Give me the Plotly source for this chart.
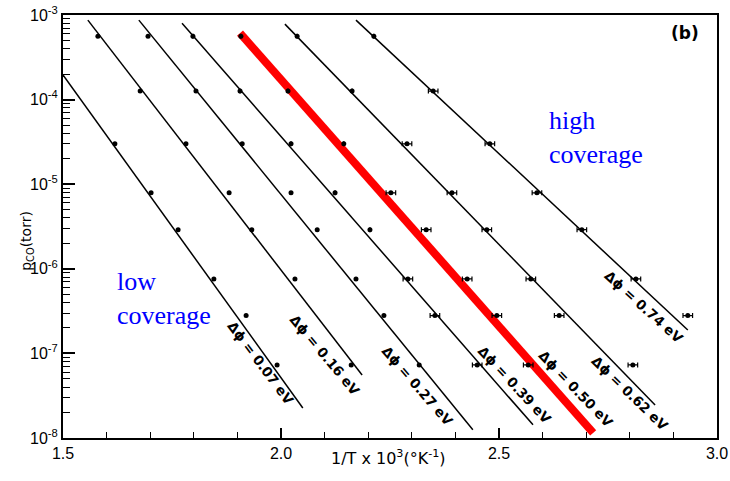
import plotly.graph_objects as go

# ---------------- data ----------------
dphi = ["0.07", "0.16", "0.27", "0.39", "0.50", "0.62", "0.74"]

# measured points (1/T x 10^3, p_CO in torr)
x_007 = [1.619, 1.702, 1.764, 1.846, 1.920, 1.991]
p_007 = [3.0e-5, 7.9e-6, 2.9e-6, 7.6e-7, 2.8e-7, 7.3e-8]

x_016 = [1.580, 1.677, 1.782, 1.881, 1.933, 2.032, 2.161]
p_016 = [5.6e-4, 1.26e-4, 3.0e-5, 7.9e-6, 2.9e-6, 7.6e-7, 7.3e-8]

x_027 = [1.695, 1.805, 1.911, 2.023, 2.083, 2.172, 2.236, 2.317]
p_027 = [5.6e-4, 1.26e-4, 3.0e-5, 7.9e-6, 2.9e-6, 7.6e-7, 2.8e-7, 7.3e-8]

x_039 = [1.798, 1.906, 2.023, 2.124, 2.204, 2.291, 2.353, 2.450]
p_039 = [5.6e-4, 1.26e-4, 3.0e-5, 7.9e-6, 2.9e-6, 7.6e-7, 2.8e-7, 7.3e-8]
e_039 = [0, 0, 0, 0, 0, 0.011, 0.011, 0.011]

x_050 = [1.908, 2.016, 2.144, 2.252, 2.333, 2.427, 2.495, 2.567]
p_050 = [5.6e-4, 1.26e-4, 3.0e-5, 7.9e-6, 2.9e-6, 7.6e-7, 2.8e-7, 7.3e-8]
e_050 = [0, 0, 0, 0.011, 0.011, 0.011, 0.011, 0.011]

x_062 = [2.037, 2.163, 2.289, 2.392, 2.472, 2.573, 2.638, 2.807]
p_062 = [5.6e-4, 1.26e-4, 3.0e-5, 7.9e-6, 2.9e-6, 7.6e-7, 2.8e-7, 7.3e-8]
e_062 = [0, 0, 0.011, 0.011, 0.011, 0.011, 0.011, 0.011]

x_074 = [2.213, 2.349, 2.479, 2.587, 2.690, 2.814, 2.933]
p_074 = [5.6e-4, 1.26e-4, 3.0e-5, 7.9e-6, 2.9e-6, 7.6e-7, 2.8e-7]
e_074 = [0, 0.011, 0.011, 0.011, 0.011, 0.011, 0.011]

# fitted straight lines (end points)
fit_x0 = [1.500, 1.557, 1.674, 1.773, 1.906, 2.009, 2.172]
fit_x1 = [2.050, 2.186, 2.440, 2.578, 2.716, 2.858, 2.933]
fit_p0 = [1.95e-4, 8.7e-4, 8.7e-4, 8.0e-4, 6.1e-4, 7.8e-4, 8.7e-4]
fit_p1 = [2.26e-8, 5.56e-8, 1.25e-8, 1.43e-8, 1.15e-8, 2.45e-8, 1.89e-7]

x_ticks = [1.5, 2.0, 2.5, 3.0]
x_ticktext = ["1.5", "2.0", "2.5", "3.0"]
y_ticks = [1e-8, 1e-7, 1e-6, 1e-5, 1e-4, 1e-3]
y_ticktext = ["10<sup>-8</sup>", "10<sup>-7</sup>", "10<sup>-6</sup>",
              "10<sup>-5</sup>", "10<sup>-4</sup>", "10<sup>-3</sup>"]

# ---------------- figure ----------------
fig = go.Figure()

pts = [(x_007, p_007, None), (x_016, p_016, None), (x_027, p_027, None),
       (x_039, p_039, e_039), (x_050, p_050, e_050), (x_062, p_062, e_062),
       (x_074, p_074, e_074)]

for i in range(len(dphi)):
    red = dphi[i] == "0.50"
    fig.add_trace(go.Scatter(
        x=[fit_x0[i], fit_x1[i]], y=[fit_p0[i], fit_p1[i]], mode="lines",
        line=dict(color="#ff0000" if red else "black", width=8 if red else 1.5),
        showlegend=False, hoverinfo="skip"))

for i, (xs, ps, es) in enumerate(pts):
    kw = {}
    if es is not None:
        kw["error_x"] = dict(type="data", array=es, symmetric=True,
                             color="black", thickness=1.2, width=2.5)
    fig.add_trace(go.Scatter(x=xs, y=ps, mode="markers",
                             marker=dict(color="black", size=5),
                             showlegend=False, **kw))

# rotated line labels (x, log10 p, angle)
label_pos = [(1.954, -7.11, 53), (2.101, -7.02, 50), (2.314, -7.38, 49),
             (2.537, -7.37, 47), (2.677, -7.42, 46), (2.800, -7.47, 44),
             (2.833, -6.45, 42)]
for lab, (lx, ly, ang) in zip(dphi, label_pos):
    fig.add_annotation(x=lx, y=ly, xref="x", yref="y",
                       text=f"<b>\u0394\u03d5 = {lab} eV</b>", showarrow=False,
                       textangle=ang,
                       font=dict(family="DejaVu Sans", size=13.5, color="black"))

minor_y = [k * 10.0 ** n for n in range(-8, -3) for k in range(2, 10)]

fig.update_xaxes(range=[1.5, 3.0], tickvals=x_ticks, ticktext=x_ticktext,
                 ticks="inside", ticklen=10, tickwidth=1.5, tickcolor="black",
                 showline=True, linecolor="black", linewidth=2, mirror=True,
                 showgrid=False, zeroline=False, automargin=False,
                 minor=dict(dtick=0.1, ticks="inside", ticklen=6,
                            tickcolor="black", tickwidth=1.2, showgrid=False),
                 tickfont=dict(family="Liberation Sans", size=16, color="black"))
fig.update_yaxes(type="log", range=[-8, -3], tickvals=y_ticks,
                 ticktext=y_ticktext,
                 ticks="inside", ticklen=12, tickwidth=1.5, tickcolor="black",
                 showline=True, linecolor="black", linewidth=2, mirror=True,
                 showgrid=False, zeroline=False, automargin=False,
                 minor=dict(tickvals=minor_y, ticks="inside", ticklen=7,
                            tickcolor="black", tickwidth=1.2, showgrid=False),
                 tickfont=dict(family="Liberation Sans", size=16, color="black"))

# axis titles and text
fig.add_annotation(xref="paper", yref="paper", x=-0.072, y=0.466,
                   text="p<sub>CO</sub>(torr)", textangle=-90, showarrow=False,
                   font=dict(family="DejaVu Sans", size=14, color="black"))
fig.add_annotation(xref="paper", yref="paper", x=0.497, y=-0.076,
                   text="1/T x 10<sup>3</sup>(\u00b0K<sup>-1</sup>)", showarrow=False,
                   font=dict(family="DejaVu Sans", size=16, color="black"))
fig.add_annotation(xref="paper", yref="paper", x=0.975, y=0.985,
                   xanchor="right", yanchor="top",
                   text="<b>(b)</b>", showarrow=False,
                   font=dict(family="DejaVu Sans", size=17, color="black"))
fig.add_annotation(xref="paper", yref="paper", x=0.0795, y=0.41,
                   xanchor="left", yanchor="top", align="left",
                   text="low<br>coverage", showarrow=False,
                   font=dict(family="Liberation Serif", size=26, color="#0000ff"))
fig.add_annotation(xref="paper", yref="paper", x=0.740, y=0.79,
                   xanchor="left", yanchor="top", align="left",
                   text="high<br>coverage", showarrow=False,
                   font=dict(family="Liberation Serif", size=26, color="#0000ff"))

fig.update_layout(width=730, height=481,
                  margin=dict(l=63, r=13, t=15, b=43),
                  plot_bgcolor="white", paper_bgcolor="white",
                  showlegend=False)

fig.write_html("out.html", config={"displayModeBar": False},
               post_script="document.body.style.margin='0';document.body.style.padding='0';")
